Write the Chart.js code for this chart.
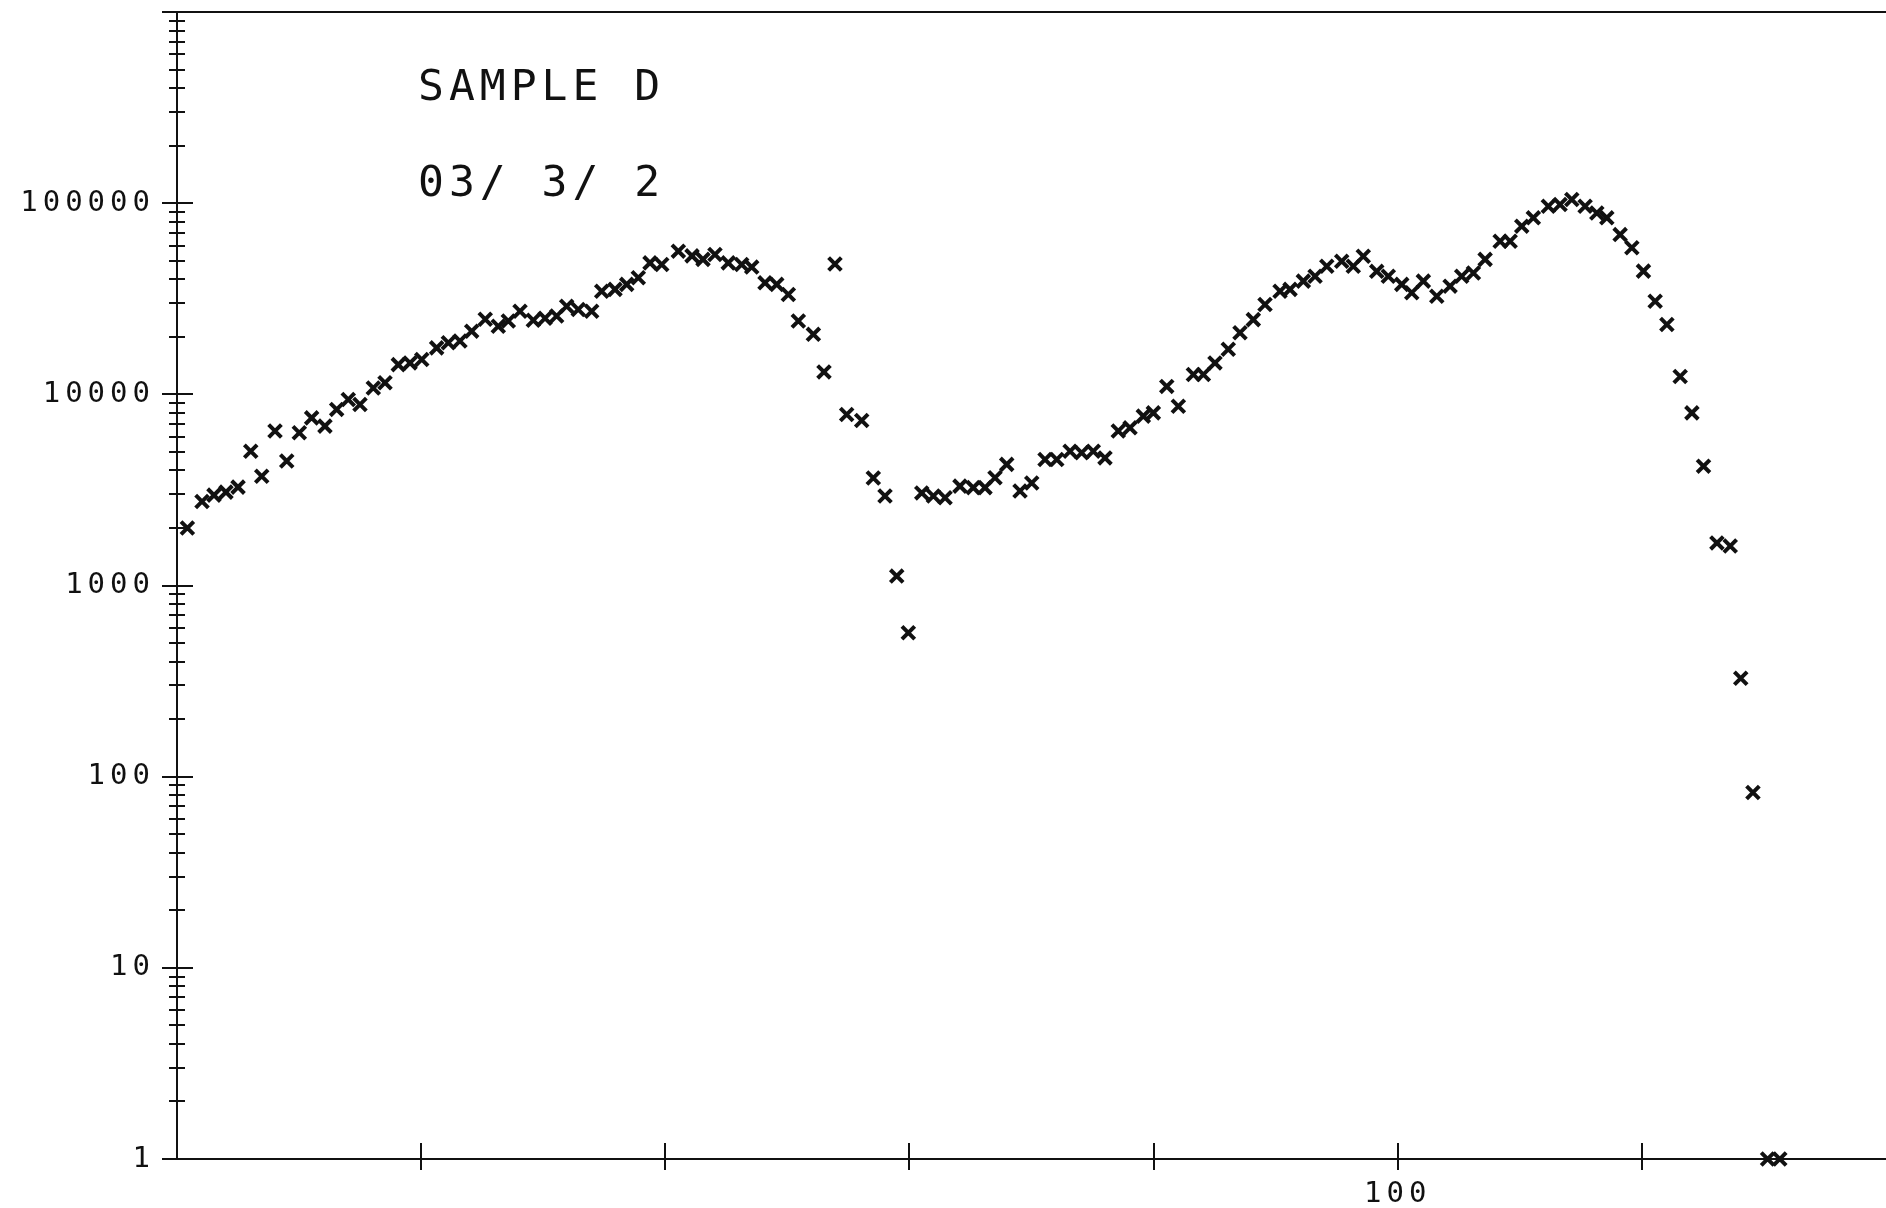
<!DOCTYPE html>
<html>
<head>
<meta charset="utf-8">
<script src="https://cdn.jsdelivr.net/npm/chart.js@4.4.0/dist/chart.umd.min.js"></script>
<style>
    html, body { margin: 0; padding: 0; background: #fff; }
    #wrap { width: 1886px; height: 1208px; }
</style>
</head>
<body>
<div id="wrap"><canvas id="spectrum-chart"></canvas></div>
<script>
// x position of every plotted point (channel)
const channels = [
    0.85, 2.05, 3.03, 4.01, 5.0, 6.04, 6.94, 8.03, 8.99, 10.02,
    11.03, 12.12, 13.08, 14.03, 14.99, 16.08, 17.04, 18.13, 19.09, 20.05,
    21.27, 22.23, 23.18, 24.14, 25.25, 26.32, 27.14, 28.1, 29.19, 30.15,
    31.1, 31.92, 32.87, 33.97, 34.79, 35.88, 36.84, 37.79, 38.75, 39.71,
    41.07, 42.19, 43.09, 44.07, 45.16, 46.26, 47.08, 48.17, 49.13, 50.08,
    50.9, 52.13, 53.0, 53.9, 54.86, 56.09, 57.04, 58.0, 58.96, 59.91,
    61.01, 61.96, 62.92, 64.14, 65.23, 66.19, 67.01, 67.97, 69.06, 70.02,
    71.11, 72.07, 73.16, 74.11, 75.06, 76.02, 77.11, 78.07, 79.16, 79.98,
    81.08, 82.03, 83.26, 84.08, 85.03, 86.12, 87.08, 88.17, 89.13, 90.36,
    91.18, 92.27, 93.23, 94.19, 95.41, 96.36, 97.18, 98.28, 99.23, 100.33,
    101.15, 102.1, 103.2, 104.29, 105.24, 106.2, 107.16, 108.39, 109.21, 110.16,
    111.11, 112.34, 113.3, 114.26, 115.35, 116.31, 117.13, 118.22, 119.18, 120.13,
    121.09, 122.05, 123.14, 124.1, 125.05, 126.15, 127.24, 128.1, 129.1, 130.3,
    131.3
];

// counts for each point (log axis)
const counts = [
    2000, 2750, 2970, 3080, 3270, 5040, 3730, 6430, 4480, 6300,
    7530, 6820, 8340, 9400, 8850, 10800, 11500, 14300, 14600, 15200,
    17500, 18600, 19000, 21400, 24700, 22700, 24200, 27200, 24400, 25000,
    25700, 28900, 27800, 27200, 34600, 35400, 37600, 40700, 48700, 47800,
    56100, 53000, 50800, 53900, 48700, 47800, 46300, 38300, 37600, 33300,
    24200, 20600, 13100, 48100, 7850, 7300, 3650, 2940, 1120, 566,
    3050, 2940, 2880, 3310, 3250, 3250, 3660, 4300, 3120, 3440,
    4560, 4560, 5040, 4950, 5040, 4650, 6430, 6680, 7690, 8000,
    11000, 8670, 12700, 12700, 14600, 17200, 21000, 24600, 29500, 34600,
    35400, 39100, 41500, 46800, 49700, 46800, 52800, 44000, 41500, 37600,
    34000, 39100, 32600, 36800, 41500, 43100, 50800, 63200, 63200, 75800,
    83800, 96400, 98400, 104500, 96400, 88900, 83800, 68500, 58400, 44100,
    30700, 23200, 12400, 8000, 4210, 1670, 1610, 327, 82.6, 1,
    1
];

const xTickValues = [20, 40, 60, 80, 100, 120];
const xTickLabels = { 100: '100' };
const yDecades = [1, 10, 100, 1000, 10000, 100000, 1000000];
const yTickLabels = ['1', '10', '100', '1000', '10000', '100000', ''];
const noteLines = ['SAMPLE D', '03/ 3/ 2'];

// decade ticks plus the 2..9 minor ticks of a log axis
function logTickValues() {
    const values = [];
    for (let d = 0; d < 6; d++) {
        for (let m = 1; m < 10; m++) {
            values.push(m * Math.pow(10, d));
        }
    }
    values.push(1000000);
    return values;
}

// plotter style frame: ticks crossing the axes, top line, notes
const plotterFrame = {
    id: 'plotterFrame',
    beforeDraw(chart) {
        chart.ctx.letterSpacing = '5px';
    },
    afterDraw(chart) {
        const ctx = chart.ctx;
        const xs = chart.scales.x;
        const ys = chart.scales.y;
        const area = chart.chartArea;

        ctx.save();
        ctx.letterSpacing = '0px';
        ctx.strokeStyle = '#111';
        ctx.lineWidth = 2;
        ctx.beginPath();
        ys.ticks.forEach(t => {
            const py = Math.round(ys.getPixelForValue(t.value));
            const major = yDecades.includes(t.value);
            const a = major ? 15 : 8;
            const b = major ? 16 : 8;
            ctx.moveTo(area.left - a, py);
            ctx.lineTo(area.left + b, py);
        });
        xTickValues.forEach(v => {
            const px = Math.round(xs.getPixelForValue(v));
            ctx.moveTo(px, area.bottom - 16);
            ctx.lineTo(px, area.bottom + 11);
        });
        const top = Math.round(ys.getPixelForValue(1000000));
        ctx.moveTo(area.left - 15, top);
        ctx.lineTo(area.right, top);
        ctx.stroke();

        ctx.fillStyle = '#111';
        ctx.font = '43px "DejaVu Sans Mono"';
        ctx.letterSpacing = '5px';
        ctx.textBaseline = 'middle';
        ctx.textAlign = 'left';
        ctx.fillText(noteLines[0], 418, 89);
        ctx.fillText(noteLines[1], 418, 185);
        ctx.restore();
    }
};

const points = channels.map((c, i) => ({ x: c, y: counts[i] }));

new Chart(document.getElementById('spectrum-chart'), {
    type: 'scatter',
    data: {
        datasets: [{
            data: points,
            pointStyle: 'crossRot',
            pointRadius: 9,
            pointBorderWidth: 4,
            borderColor: '#111',
            backgroundColor: '#111',
            showLine: false,
            clip: false
        }]
    },
    options: {
        responsive: true,
        maintainAspectRatio: false,
        animation: false,
        events: [],
        layout: { autoPadding: false, padding: { top: 12, left: 0, right: 0, bottom: 0 } },
        scales: {
            x: {
                type: 'linear',
                min: 0,
                max: 140,
                grid: { display: false },
                border: { display: true, color: '#111', width: 2 },
                ticks: {
                    stepSize: 20,
                    autoSkip: false,
                    maxRotation: 0,
                    padding: 10,
                    color: '#111',
                    font: { family: 'DejaVu Sans Mono', size: 29 },
                    callback: value => xTickLabels[value] || ''
                },
                afterFit: scale => {
                    scale.height = 49;
                    scale.paddingLeft = 0;
                    scale.paddingRight = 0;
                }
            },
            y: {
                type: 'logarithmic',
                min: 1,
                max: 1000000,
                grid: { display: false },
                border: { display: true, color: '#111', width: 2 },
                afterBuildTicks: scale => {
                    scale.ticks = logTickValues().map(v => ({ value: v }));
                },
                ticks: {
                    autoSkip: false,
                    padding: 14,
                    color: '#111',
                    font: { family: 'DejaVu Sans Mono', size: 29 },
                    callback: value => {
                        const i = yDecades.indexOf(value);
                        return i >= 0 ? yTickLabels[i] : '';
                    }
                },
                afterFit: scale => {
                    scale.width = 177;
                    scale.paddingTop = 0;
                    scale.paddingBottom = 0;
                }
            }
        },
        plugins: {
            legend: { display: false },
            tooltip: { enabled: false }
        }
    },
    plugins: [plotterFrame]
});
</script>
</body>
</html>
